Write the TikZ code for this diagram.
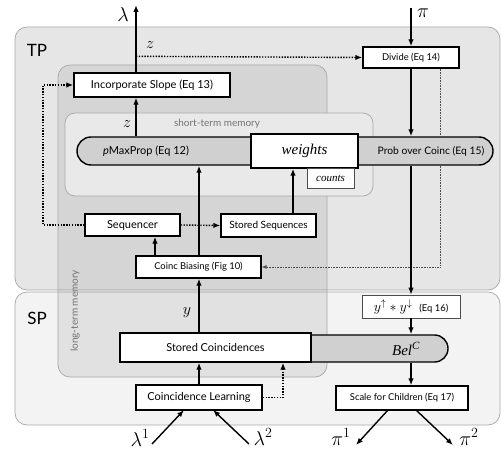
\RequirePackage{fix-cm}
\documentclass[tikz,border=0pt]{standalone}
\usepackage{fontspec}
\setmainfont{Lato}
\newfontfamily\tms{Liberation Serif}
\usetikzlibrary{arrows.meta,shapes.misc,calc}
\definecolor{tpfill}{HTML}{E6E6E6}
\definecolor{spfill}{HTML}{F3F3F3}
\definecolor{stfill}{HTML}{E9E9E9}
\definecolor{pillfill}{HTML}{D0D0D0}
\definecolor{panelline}{HTML}{A8A8A8}
\begin{document}
\begin{tikzpicture}[x=1pt,y=-1pt,
  panel/.style={draw=panelline,line width=0.7pt,rounded corners=12pt},
  box/.style={draw=black,line width=1.4pt,fill=white,inner sep=0pt,font=\fontsize{11}{13}\selectfont},
  sbox/.style={box,font=\fontsize{9.4}{11}\selectfont},
  thinbox/.style={draw=black!70,line width=0.7pt,fill=white,inner sep=0pt},
  pill/.style={rounded rectangle,draw=black,line width=1.4pt,fill=pillfill,inner sep=0pt},
  arr/.style={line width=1.4pt,-{Latex[length=7pt,width=5.5pt]}},
  dotarr/.style={line width=1.4pt,dash pattern=on 1.4pt off 1.4pt,-{Latex[length=7pt,width=5.5pt]}},
  thindot/.style={line width=0.6pt,black!70,dash pattern=on 0.8pt off 0.8pt},
  thindotarr/.style={thindot,-{Latex[length=5pt,width=4pt]}},
  lbl/.style={inner sep=0pt,font=\fontsize{20}{22}\selectfont},
  zl/.style={inner sep=0pt,font=\fontsize{16}{18}\selectfont},
  graytxt/.style={inner sep=0pt,text=black!55,font=\fontsize{10}{12}\selectfont}
]
\useasboundingbox (0,0) rectangle (502,454);
% panels
\path[panel,fill=tpfill] (15,27) rectangle (500,290);
\path[panel,fill=spfill] (15,292) rectangle (500,425);
\node[inner sep=0pt,font=\fontsize{17}{19}\selectfont] (tp) at (37,50) {TP};
\node[inner sep=0pt,font=\fontsize{17}{19}\selectfont] (sp) at (37,318) {SP};
\path[panel,fill=black,fill opacity=0.07] (58,65) rectangle (327,377);
\node[graytxt,rotate=90] (ltm) at (75,311) {long-term memory};
\path[panel,fill=stfill,rounded corners=10pt] (65,113) rectangle (373,196);
\node[graytxt] (stm) at (217,124) {short-term memory};

% column coordinates
\coordinate (cA) at (136,0);
\coordinate (cB) at (155,0);
\coordinate (cC) at (199,0);
\coordinate (cD) at (293,0);
\coordinate (cE) at (411,0);
\coordinate (cF) at (440,0);
\coordinate (cG) at (283,0);
\coordinate (cH) at (43,0);

% pills
\node[pill,minimum width=416pt,minimum height=28pt] (coinpill) at (285,151) {};
\node[inner sep=0pt,font=\fontsize{11}{13}\selectfont] (pmax) at (146,151) {\textit{p}MaxProp (Eq 12)};
\node[inner sep=0pt,font=\fontsize{10.3}{12}\selectfont] (prob) at (431,151) {Prob over Coinc (Eq 15)};
\node[box,minimum width=107pt,minimum height=34pt] (weights) at (304.5,151) {\tms\itshape\fontsize{15}{17}\selectfont weights};
\node[thinbox,minimum width=47pt,minimum height=20pt] (counts) at (330.5,178) {\tms\itshape\fontsize{11}{13}\selectfont counts};

\node[pill,rounded rectangle left arc=none,minimum width=248pt,minimum height=27pt] (bel) at (324,348.5) {};
\node[inner sep=0pt] (beltxt) at (406,349) {\tms\itshape\fontsize{15}{17}\selectfont Bel\textsuperscript{\fontsize{11}{13}\selectfont C}};

% boxes
\node[box,minimum width=156pt,minimum height=24pt] (incorp) at (152,85) {Incorporate Slope (Eq 13)};
\node[sbox,minimum width=96pt,minimum height=21pt] (divide) at (411,57.5) {Divide (Eq 14)};
\node[box,minimum width=95pt,minimum height=22pt] (seq) at (132.5,225) {Sequencer};
\node[box,font=\fontsize{10}{12}\selectfont,minimum width=95pt,minimum height=23pt] (stseq) at (268.5,225.5) {Stored Sequences};
\node[sbox,minimum width=125pt,minimum height=22pt] (bias) at (198.5,267) {Coinc Biasing (Fig 10)};
\node[thinbox,minimum width=98pt,minimum height=23pt] (yy) at (411,306.5) {\fontsize{14}{16}\selectfont$y^{\uparrow}*y^{\downarrow}$\enspace{\fontsize{9.4}{11}\selectfont(Eq 16)}};
\node[box,minimum width=191pt,minimum height=29pt] (stcoinc) at (215.5,347.5) {Stored Coincidences};
\node[box,minimum width=126pt,minimum height=25pt] (learn) at (199,397.5) {Coincidence Learning};
\node[sbox,minimum width=132pt,minimum height=24pt] (scale) at (402,398) {Scale for Children (Eq 17)};

% outer labels
\coordinate (lamtop) at (136,5);
\node[lbl] (lam) at (123,15) {$\lambda$};
\coordinate (pitop) at (411,8);
\node[lbl] (pi) at (423,13) {$\pi$};
\coordinate (l1) at (152,444);
\coordinate (l2) at (249,444);
\node[lbl] (lam1) at (140,438) {$\lambda^1$};
\node[lbl] (lam2) at (263,437) {$\lambda^2$};
\coordinate (p1) at (356,445);
\coordinate (p2) at (453,445);
\node[lbl] (pi1) at (341,437) {$\pi^1$};
\node[lbl] (pi2) at (469,437) {$\pi^2$};

% connectors
\draw[arr] (incorp.north -| cA) -- (lamtop);
\draw[arr] (pitop) -- (divide.north);
\draw[dotarr] ($(incorp.north -| cA)+(0,-16)$) -- (divide.west);
\node[zl] (z1) at (150,45) {$z$};
\draw[arr] (coinpill.north -| cA) -- (incorp.south -| cA);
\node[zl] (z2) at (127,124) {$z$};
\draw[dotarr] (seq.west) -| (cH |- incorp.west) -- (incorp.west);
\draw[dotarr] (seq.east) -- (stseq.west);
\draw[arr] (stseq.north -| cD) -- (weights.south -| cD);
\draw[arr] (bias.north -| cB) -- (seq.south -| cB);
\draw[arr] (bias.north -| cC) -- (coinpill.south -| cC);
\draw[arr] (divide.south -| cE) -- (coinpill.north -| cE);
\draw[thindot] (divide.south -| cF) -- (coinpill.north -| cF);
\draw[thindotarr] (coinpill.south -| cF) -- (cF |- bias.east) -- (bias.east);
\draw[arr] (coinpill.south -| cE) -- (yy.north -| cE);
\draw[arr] (yy.south -| cE) -- (bel.north -| cE);
\draw[arr] (bel.south -| cE) -- (scale.north -| cE);
\draw[arr] (stcoinc.north -| cC) -- (bias.south -| cC);
\node[zl] (ylab) at (187,313) {$y$};
\draw[arr] (learn.north -| cC) -- (stcoinc.south -| cC);
\draw[dotarr] (learn.east) -| (cG |- stcoinc.south);
\draw[arr] (l1) -- (184,410);
\draw[arr] (l2) -- (213,410);
\draw[arr] (388,410) -- (p1);
\draw[arr] (416,410) -- (p2);
\end{tikzpicture}
\end{document}
